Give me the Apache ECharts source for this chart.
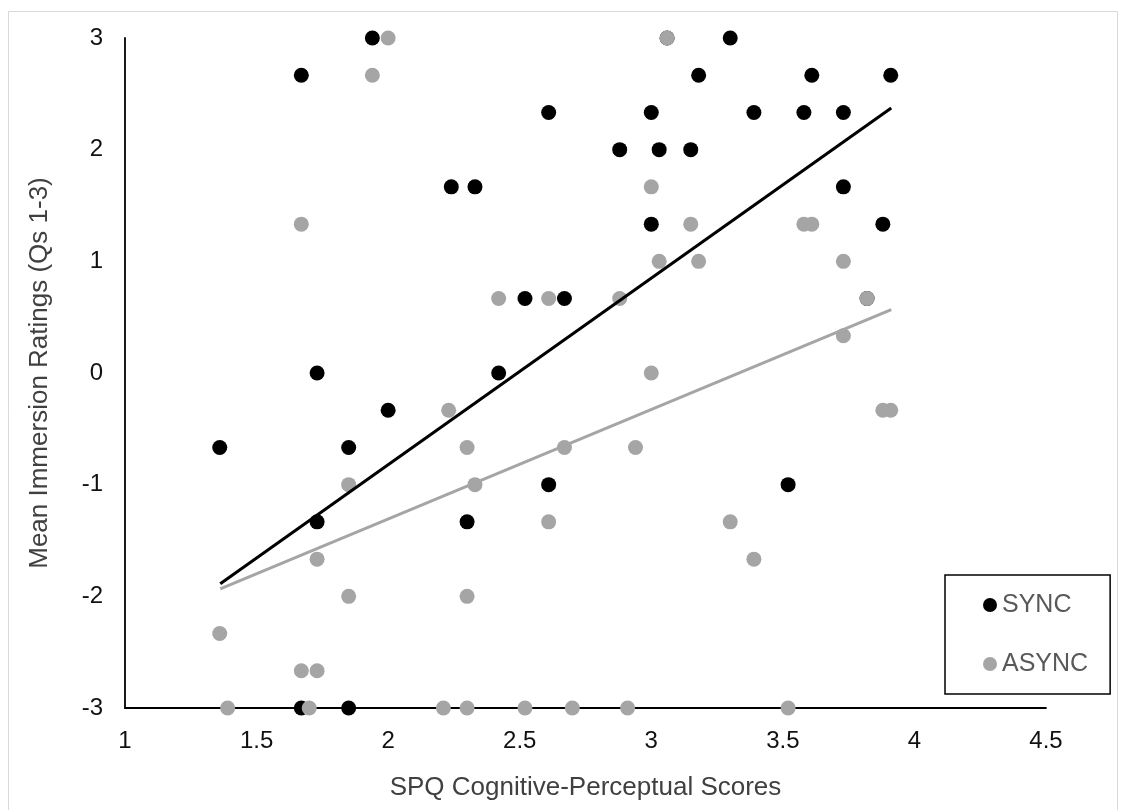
<!DOCTYPE html>
<html>
<head>
<meta charset="utf-8">
<script src="https://cdn.jsdelivr.net/npm/echarts@6/dist/echarts.min.js"></script>
<style>
html,body{margin:0;padding:0;background:#fff;}
#chart{width:1126px;height:810px;}
</style>
</head>
<body>
<div id="chart"></div>
<script>
// SYNC points [x, y]
const syncPoints = [
  [1.94, 3], [1.67, 2.667], [2.24, 1.667], [1.73, 0], [3.30, 3], [3.18, 2.667],
  [2.61, 2.333], [3.00, 2.333], [3.39, 2.333], [2.88, 2], [3.03, 2], [3.15, 2],
  [2.33, 1.667], [3.00, 1.333], [2.52, 0.667], [2.67, 0.667], [2.42, 0],
  [3.61, 2.667], [3.91, 2.667], [3.58, 2.333], [3.73, 2.333], [3.73, 1.667],
  [3.88, 1.333], [2.00, -0.333], [1.36, -0.667], [1.85, -0.667], [1.73, -1.333],
  [1.67, -3], [1.85, -3], [2.61, -1], [2.30, -1.333], [3.52, -1],
  [3.06, 3], [3.82, 0.667]
];
// ASYNC points [x, y]
const asyncPoints = [
  [2.00, 3], [1.94, 2.667], [1.67, 1.333], [3.06, 3], [3.00, 1.667], [3.15, 1.333],
  [3.03, 1], [3.18, 1], [2.42, 0.667], [2.61, 0.667], [2.88, 0.667], [3.00, 0],
  [3.58, 1.333], [3.61, 1.333], [3.73, 1], [3.82, 0.667], [3.73, 0.333],
  [2.23, -0.333], [1.85, -1], [1.73, -1.667], [1.85, -2], [1.36, -2.333],
  [1.67, -2.667], [1.73, -2.667], [1.39, -3], [1.70, -3], [2.21, -3],
  [2.30, -0.667], [2.67, -0.667], [2.94, -0.667], [2.33, -1], [2.61, -1.333],
  [3.30, -1.333], [3.39, -1.667], [2.30, -2], [2.30, -3], [2.52, -3], [2.70, -3],
  [2.91, -3], [3.88, -0.333], [3.91, -0.333], [3.52, -3]
];
// Linear trend line endpoints
const syncTrend = [[1.362, -1.887], [3.912, 2.373]];
const asyncTrend = [[1.362, -1.934], [3.912, 0.567]];

const xTicks = {min: 1, max: 4.5, interval: 0.5};
const yTicks = {min: -3, max: 3, interval: 1};

const FONT = 'Liberation Sans, Arial, sans-serif';
const chart = echarts.init(document.getElementById('chart'), null, {renderer: 'canvas'});
chart.setOption({
  backgroundColor: '#fff',
  animation: false,
  graphic: [{
    type: 'rect', left: 8, top: 11, silent: true, z: -10,
    shape: {width: 1109, height: 810},
    style: {fill: '#fff', stroke: '#d9d9d9', lineWidth: 1}
  }],
  grid: {left: 125, right: 80, top: 38, bottom: 102, containLabel: false},
  xAxis: {
    type: 'value', min: xTicks.min, max: xTicks.max, interval: xTicks.interval,
    name: 'SPQ Cognitive-Perceptual Scores', nameLocation: 'middle', nameGap: 67,
    nameTextStyle: {fontSize: 26, color: '#404040', fontFamily: FONT},
    axisLine: {show: true, onZero: false, lineStyle: {color: '#000', width: 1.8}},
    axisTick: {show: false}, splitLine: {show: false},
    axisLabel: {fontSize: 24, color: '#111', fontFamily: FONT, margin: 21,
      formatter: v => String(v)}
  },
  yAxis: {
    type: 'value', min: yTicks.min, max: yTicks.max, interval: yTicks.interval,
    name: 'Mean Immersion Ratings (Qs 1-3)', nameLocation: 'middle', nameGap: 72,
    nameTextStyle: {fontSize: 26, color: '#404040', fontFamily: FONT},
    axisLine: {show: true, onZero: false, lineStyle: {color: '#000', width: 1.8}},
    axisTick: {show: false}, splitLine: {show: false},
    axisLabel: {fontSize: 24, color: '#111', fontFamily: FONT, margin: 22}
  },
  legend: {
    orient: 'vertical', left: 945, top: 575,
    padding: [17, 22, 17, 38], itemGap: 33,
    itemWidth: 14, itemHeight: 14,
    borderColor: '#000', borderWidth: 1.5,
    textStyle: {fontSize: 25, color: '#595959', fontFamily: FONT, lineHeight: 26},
    data: [{name: 'SYNC', icon: 'circle'}, {name: 'ASYNC', icon: 'circle'}]
  },
  series: [
    {name: 'SYNC', type: 'scatter', data: syncPoints, symbol: 'circle', symbolSize: 15,
      itemStyle: {color: '#000', opacity: 1}, z: 2},
    {name: 'ASYNC', type: 'scatter', data: asyncPoints, symbol: 'circle', symbolSize: 15,
      itemStyle: {color: '#a5a5a5', opacity: 1}, z: 3},
    {name: 'SYNC trend', type: 'line', data: syncTrend, showSymbol: false, symbol: 'none',
      lineStyle: {color: '#000', width: 3}, z: 4, silent: true},
    {name: 'ASYNC trend', type: 'line', data: asyncTrend, showSymbol: false, symbol: 'none',
      lineStyle: {color: '#a5a5a5', width: 3}, z: 4, silent: true}
  ]
});
</script>
</body>
</html>
